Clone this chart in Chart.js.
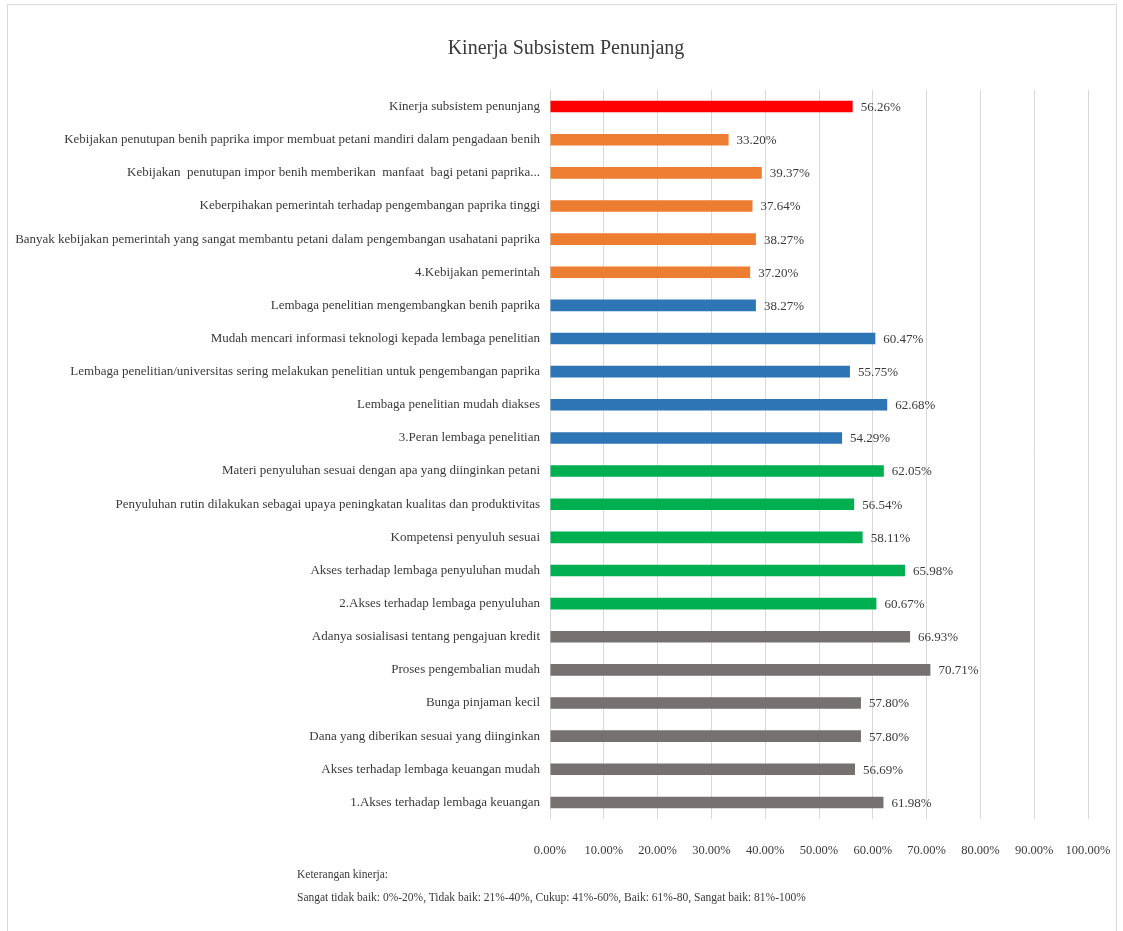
<!DOCTYPE html>
<html>
<head>
<meta charset="utf-8">
<title>Kinerja Subsistem Penunjang</title>
<script src="https://cdn.jsdelivr.net/npm/chart.js@4.4.1/dist/chart.umd.min.js"></script>
<style>
  html, body { margin: 0; padding: 0; background: #fff; }
  #wrap { position: relative; width: 1123px; height: 931px; overflow: hidden; }
  #frame {
    position: absolute; left: 7px; top: 4px; width: 1110px; height: 960px;
    border: 1px solid #d9d9d9; box-sizing: border-box; pointer-events: none;
  }
  #note {
    position: absolute; left: 297px; top: 863px;
    font-family: 'Liberation Serif', 'Times New Roman', serif;
    font-size: 11.5px; line-height: 23px; color: #3a3a3a;
  }
</style>
</head>
<body>
<div id="wrap">
  <canvas id="chartKinerja"></canvas>
  <div id="frame"></div>
  <div id="note">
    Keterangan kinerja:<br>
    Sangat tidak baik: 0%-20%, Tidak baik: 21%-40%, Cukup: 41%-60%, Baik: 61%-80, Sangat baik: 81%-100%
  </div>
</div>

<script>
// indikator kinerja, urut dari atas ke bawah
var labels = [
  'Kinerja subsistem penunjang',
  'Kebijakan penutupan benih paprika impor membuat petani mandiri dalam pengadaan benih',
  'Kebijakan  penutupan impor benih memberikan  manfaat  bagi petani paprika...',
  'Keberpihakan pemerintah terhadap pengembangan paprika tinggi',
  'Banyak kebijakan pemerintah yang sangat membantu petani dalam pengembangan usahatani paprika',
  '4.Kebijakan pemerintah',
  'Lembaga penelitian mengembangkan benih paprika',
  'Mudah mencari informasi teknologi kepada lembaga penelitian',
  'Lembaga penelitian/universitas sering melakukan penelitian untuk pengembangan paprika',
  'Lembaga penelitian mudah diakses',
  '3.Peran lembaga penelitian',
  'Materi penyuluhan sesuai dengan apa yang diinginkan petani',
  'Penyuluhan rutin dilakukan sebagai upaya peningkatan kualitas dan produktivitas',
  'Kompetensi penyuluh sesuai',
  'Akses terhadap lembaga penyuluhan mudah',
  '2.Akses terhadap lembaga penyuluhan',
  'Adanya sosialisasi tentang pengajuan kredit',
  'Proses pengembalian mudah',
  'Bunga pinjaman kecil',
  'Dana yang diberikan sesuai yang diinginkan',
  'Akses terhadap lembaga keuangan mudah',
  '1.Akses terhadap lembaga keuangan'
];

var nilai = [
  56.26,
  33.20, 39.37, 37.64, 38.27, 37.20,
  38.27, 60.47, 55.75, 62.68, 54.29,
  62.05, 56.54, 58.11, 65.98, 60.67,
  66.93, 70.71, 57.80, 57.80, 56.69, 61.98
];

var kelompok = [
  'total',
  'kebijakan', 'kebijakan', 'kebijakan', 'kebijakan', 'kebijakan',
  'penelitian', 'penelitian', 'penelitian', 'penelitian', 'penelitian',
  'penyuluhan', 'penyuluhan', 'penyuluhan', 'penyuluhan', 'penyuluhan',
  'keuangan', 'keuangan', 'keuangan', 'keuangan', 'keuangan', 'keuangan'
];

var xTicks = [0, 10, 20, 30, 40, 50, 60, 70, 80, 90, 100];

var warna = {
  total: '#ff0000',
  kebijakan: '#ed7d31',
  penelitian: '#2e75b6',
  penyuluhan: '#00b050',
  keuangan: '#767171'
};

var fontSerif = "'Liberation Serif', 'Times New Roman', serif";
var warnaTeks = '#3a3a3a';

// tulis persentase di ujung kanan tiap batang
var labelNilai = {
  id: 'labelNilai',
  afterLayout: function(chart) {
    // label kategori yang panjang jangan terpotong di tepi kiri sumbu
    chart.scales.y.left = 0;
  },
  afterDatasetsDraw: function(chart) {
    var ctx = chart.ctx;
    var meta = chart.getDatasetMeta(0);
    ctx.save();
    ctx.font = '13px ' + fontSerif;
    ctx.fillStyle = warnaTeks;
    ctx.textAlign = 'left';
    ctx.textBaseline = 'middle';
    meta.data.forEach(function(bar, i) {
      ctx.fillText(nilai[i].toFixed(2) + '%', bar.x + 8, bar.y + 1);
    });
    ctx.restore();
  }
};

var config = {
  type: 'bar',
  data: {
    labels: labels,
    datasets: [{
      data: nilai,
      backgroundColor: kelompok.map(function(k) { return warna[k]; }),
      borderWidth: 0,
      barPercentage: 0.35,
      categoryPercentage: 1
    }]
  },
  options: {
    indexAxis: 'y',
    responsive: true,
    maintainAspectRatio: false,
    animation: false,
    layout: { padding: { left: 44, right: 35, top: 0, bottom: 0 } },
    plugins: {
      legend: { display: false },
      tooltip: { enabled: false },
      title: {
        display: true,
        text: 'Kinerja Subsistem Penunjang',
        color: warnaTeks,
        font: { family: fontSerif, size: 20, weight: 'normal' },
        padding: { top: 37, bottom: 29 }
      }
    },
    scales: {
      x: {
        min: 0,
        max: 100,
        afterBuildTicks: function(scale) {
          scale.ticks = xTicks.map(function(v) { return { value: v }; });
        },
        afterFit: function(scale) {
          scale.height = 112;
          scale.paddingLeft = 0;
          scale.paddingRight = 0;
        },
        grid: { color: '#d9d9d9', lineWidth: 1, drawTicks: false },
        border: { display: false },
        ticks: {
          padding: 24,
          color: warnaTeks,
          font: { family: fontSerif, size: 12.5 },
          callback: function(v) { return v.toFixed(2) + '%'; }
        }
      },
      y: {
        // lebar sumbu kategori dibuat tetap supaya area plot mulai di x = 550
        afterFit: function(scale) { scale.width = 506; },
        grid: { display: false, drawTicks: false },
        border: { display: false },
        ticks: {
          padding: 10,
          autoSkip: false,
          color: warnaTeks,
          font: { family: fontSerif, size: 13 }
        }
      }
    }
  },
  plugins: [labelNilai]
};

var chartKinerja = new Chart(
  document.querySelector('#chartKinerja').getContext('2d'),
  config
);
</script>
</body>
</html>
